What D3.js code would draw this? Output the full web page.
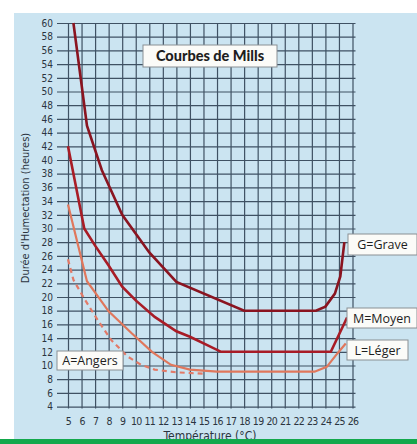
<!DOCTYPE html>
<html>
<head>
<meta charset="utf-8">
<script src="https://cdn.jsdelivr.net/npm/d3@7"></script>
<style>
  body { margin: 0; background: #fff; }
  svg { display: block; }
  .tick text { font-family: "DejaVu Sans Condensed", "Liberation Sans Narrow", sans-serif; fill: #2b3440; }
  .tick line { stroke: #3f5163; stroke-width: 1.2; }
</style>
</head>
<body>
<div id="chart"></div>
<script>
// temperatures (°C) on the x axis, durations (hours) on the y axis
var xTicks = d3.range(5, 27);
var yTicks = d3.range(4, 61, 2);

// curves, [temperature, hours]
var grave = [[5.4,60],[6.4,45],[7.5,38.5],[9,32],[11,26.5],[13,22.2],[18,18],[23.3,18],[24,18.6],[24.7,20.5],[25.1,23],[25.4,28]];
var moyen = [[5,42],[6.2,30],[7,27.5],[8,24.6],[9,21.5],[10,19.5],[11.4,17.1],[13,15],[14,14.2],[16.3,12],[24.4,12],[25.6,17]];
var leger = [[5,33.5],[6.4,22.3],[8,17.9],[9.7,14.7],[11.2,12],[12.6,10.1],[14,9.4],[16,9.1],[23.2,9.1],[24.1,9.8],[24.9,11.8],[25.5,13.2]];
var angers = [[5,25.5],[5.4,22.5],[6.25,19.6],[7.2,16.6],[8.2,13.7],[9.4,11.3],[10.4,10.1],[11.4,9.4],[13,9],[15,8.8]];

var W = 417, H = 444;

var svg = d3.select('#chart').append('svg')
  .attr('width', W)
  .attr('height', H);

// light blue paper
svg.append('rect')
  .attr('x', 14).attr('y', 13)
  .attr('width', W - 14).attr('height', 426)
  .attr('fill', '#cbe4f1');

var x = d3.scaleLinear().domain([5, 26]).range([68, 352.5]);
var y = d3.scaleLinear().domain([4, 60]).range([406.6, 23]);

var gridLeft = 57, gridRight = x(26) + 3, gridBottom = y(4) + 2;

// horizontal grid + y labels
svg.append('g')
  .attr('transform', 'translate(' + gridLeft + ',0)')
  .call(d3.axisLeft(y).tickValues(yTicks).tickSize(-(gridRight - gridLeft)).tickPadding(4))
  .call(g => g.select('.domain').remove())
  .call(g => g.selectAll('text').attr('font-size', 10));

// vertical grid + x labels
svg.append('g')
  .attr('transform', 'translate(0,' + gridBottom + ')')
  .call(d3.axisBottom(x).tickValues(xTicks).tickSize(-(gridBottom - y(60))).tickPadding(9))
  .call(g => g.select('.domain').remove())
  .call(g => g.selectAll('text').attr('font-size', 10.5).attr('letter-spacing', '-0.7px'));

// axis titles
svg.append('text')
  .attr('transform', 'translate(29,208) rotate(-90)')
  .attr('text-anchor', 'middle')
  .attr('font-family', '"DejaVu Sans Condensed", sans-serif')
  .attr('font-size', 11)
  .attr('fill', '#2b3440')
  .text("Durée d'Humectation (heures)");

svg.append('text')
  .attr('x', 210).attr('y', 440)
  .attr('text-anchor', 'middle')
  .attr('font-family', '"DejaVu Sans Condensed", sans-serif')
  .attr('font-size', 12)
  .attr('fill', '#2b3440')
  .text('Température (°C)');

var line = d3.line()
  .x(d => x(d[0]))
  .y(d => y(d[1]))
  .curve(d3.curveLinear);

svg.append('path').datum(angers)
  .attr('d', line).attr('fill', 'none')
  .attr('stroke', '#e27a68').attr('stroke-width', 2.2)
  .attr('stroke-dasharray', '5,4');

svg.append('path').datum(leger)
  .attr('d', line).attr('fill', 'none')
  .attr('stroke', '#e0775c').attr('stroke-width', 2.2);

svg.append('path').datum(moyen)
  .attr('d', line).attr('fill', 'none')
  .attr('stroke', '#a81c26').attr('stroke-width', 2.6);

svg.append('path').datum(grave)
  .attr('d', line).attr('fill', 'none')
  .attr('stroke', '#8a1420').attr('stroke-width', 2.6);

// label boxes
function box(x0, y0, w, h, label, bold, size) {
  svg.append('rect')
    .attr('x', x0).attr('y', y0)
    .attr('width', w).attr('height', h)
    .attr('fill', '#fbfbf8')
    .attr('stroke', '#8a8f94')
    .attr('stroke-width', 1);
  svg.append('text')
    .attr('x', x0 + w / 2).attr('y', y0 + h / 2)
    .attr('dy', '0.36em')
    .attr('text-anchor', 'middle')
    .attr('font-family', bold ? 'Lato, sans-serif' : '"Open Sans", sans-serif')
    .attr('font-weight', bold ? 900 : 400)
    .attr('font-size', size)
    .attr('fill', '#1e1e1e')
    .text(label);
}

box(143, 45, 134, 22, 'Courbes de Mills', true, 14.5);
box(348, 234, 69, 21, 'G=Grave', false, 12.5);
box(347, 308, 70, 20, 'M=Moyen', false, 12.5);
box(347, 340, 61, 20, 'L=Léger', false, 12.5);
box(57, 351, 66, 19, 'A=Angers', false, 12.5);

// green band at the bottom
svg.append('rect')
  .attr('x', 0).attr('y', 439)
  .attr('width', W).attr('height', H - 439)
  .attr('fill', '#13a84c');
</script>
</body>
</html>
